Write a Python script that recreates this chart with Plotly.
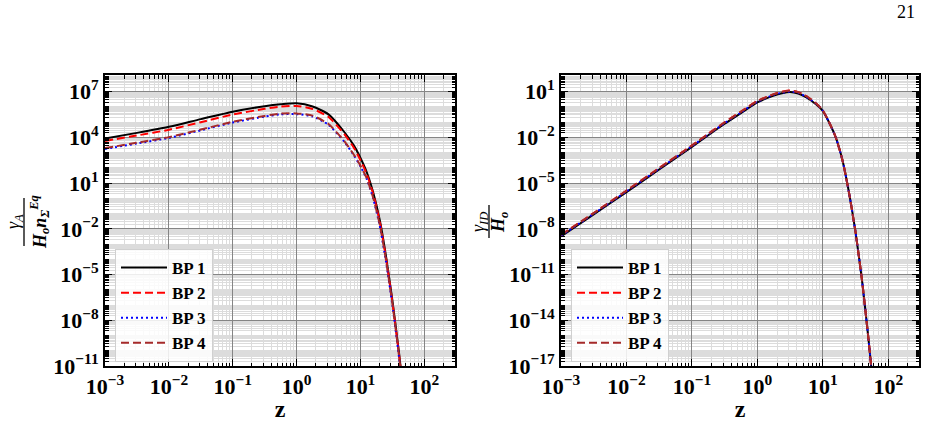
import plotly.graph_objects as go

# ---------------- data ----------------
z_left = [0.001, 0.00316, 0.01, 0.0316, 0.1, 0.316, 0.562, 1.0, 1.78, 3.16,
          5.62, 7.94, 10.0, 12.6, 15.8, 20.0, 25.1, 31.6, 39.8, 50.1]
gA_bp1 = [8.5e3, 2.0e4, 5.0e4, 1.6e5, 4.9e5, 1.12e6, 1.5e6, 1.74e6, 1.07e6, 3.3e5,
          2.2e4, 2.8e3, 4.5e2, 5.0e1, 2.5, 4.0e-2, 1.6e-4, 2.0e-7, 1.0e-10, 2.0e-14]
gA_bp2 = [5.9e3, 1.35e4, 3.2e4, 1.0e5, 3.2e5, 7.6e5, 1.07e6, 1.17e6, 7.4e5, 2.2e5,
          1.6e4, 2.0e3, 3.2e2, 3.8e1, 2.0, 3.2e-2, 1.26e-4, 1.6e-7, 7.9e-11, 1.6e-14]
gA_bp3 = [1.78e3, 4.0e3, 9.3e3, 2.95e4, 9.5e4, 2.34e5, 3.3e5, 3.4e5, 2.4e5, 6.8e4,
          5.0e3, 6.3e2, 1.26e2, 1.78e1, 1.0, 1.66e-2, 7.1e-5, 1.0e-7, 5.0e-11, 1.0e-14]
gA_bp4 = [2.0e3, 4.5e3, 1.05e4, 3.3e4, 1.07e5, 2.6e5, 3.7e5, 3.8e5, 2.7e5, 7.6e4,
          5.6e3, 7.1e2, 1.4e2, 2.0e1, 1.12, 2.0e-2, 8.9e-5, 1.26e-7, 6.3e-11, 1.26e-14]

z_right = [0.001, 0.00316, 0.01, 0.0316, 0.1, 0.178, 0.316, 0.562, 1.0, 1.78, 2.37, 3.16,
           4.22, 5.62, 7.94, 10.0, 12.6, 15.8, 20.0, 25.1, 31.6, 39.8, 50.1, 57.5]
gID_bp1 = [3.2e-9, 8.9e-8, 2.6e-6, 7.9e-5, 2.4e-3, 1.4e-2, 7.9e-2, 0.40, 2.0, 5.6, 7.9, 9.5,
           7.6, 4.2, 1.48, 0.56, 8.9e-2, 1.0e-2, 3.2e-4, 2.5e-6, 6.3e-9, 4.0e-12, 5.0e-16, 1.26e-18]
gID_bp2 = [4.0e-9, 1.1e-7, 3.25e-6, 9.9e-5, 3.0e-3, 1.75e-2, 9.9e-2, 0.50, 2.5, 7.0, 9.9, 11.9,
           9.5, 5.2, 1.7, 0.60, 9.2e-2, 1.0e-2, 3.2e-4, 2.5e-6, 6.3e-9, 4.0e-12, 5.0e-16, 1.26e-18]
gID_bp3 = [3.5e-9, 9.8e-8, 2.85e-6, 8.7e-5, 2.65e-3, 1.55e-2, 8.7e-2, 0.44, 2.2, 6.2, 8.7, 10.4,
           8.4, 4.6, 1.6, 0.58, 9.0e-2, 1.0e-2, 3.2e-4, 2.5e-6, 6.3e-9, 4.0e-12, 5.0e-16, 1.26e-18]
gID_bp4 = [3.9e-9, 1.08e-7, 3.2e-6, 9.6e-5, 2.9e-3, 1.7e-2, 9.6e-2, 0.49, 2.44, 6.8, 9.6, 11.6,
           9.3, 5.1, 1.68, 0.60, 9.2e-2, 1.0e-2, 3.2e-4, 2.5e-6, 6.3e-9, 4.0e-12, 5.0e-16, 1.26e-18]

labels = ["BP 1", "BP 2", "BP 3", "BP 4"]

# tick positions / labels
x_tick_exp = [-3, -2, -1, 0, 1, 2]
yL_tick_exp = [-11, -8, -5, -2, 1, 4, 7]
yR_tick_exp = [-17, -14, -11, -8, -5, -2, 1]

# ---------------- styling ----------------
W, H = 933, 422
FONT = "Liberation Serif"
styles = [
    dict(color="black", width=2, dash="solid"),
    dict(color="red", width=2, dash="8px,4px"),
    dict(color="blue", width=2, dash="2px,3px"),
    dict(color="#a52a2a", width=2, dash="8px,4px"),
]

fig = go.Figure()
for ys, lab, st in zip([gA_bp1, gA_bp2, gA_bp3, gA_bp4], labels, styles):
    fig.add_trace(go.Scatter(x=z_left, y=ys, mode="lines", name=lab,
                             line=dict(shape="spline", smoothing=0.6, **st),
                             xaxis="x", yaxis="y", legend="legend"))
for ys, lab, st in zip([gID_bp1, gID_bp2, gID_bp3, gID_bp4], labels, styles):
    fig.add_trace(go.Scatter(x=z_right, y=ys, mode="lines", name=lab,
                             line=dict(shape="spline", smoothing=0.6, **st),
                             xaxis="x2", yaxis="y2", legend="legend2"))


def px_x(p):
    return p / W


def px_y(p):
    return 1 - p / H


def pow_label(e):
    s = str(e).replace("-", "−")
    return f"10<sup>{s}</sup>"


def axis_common(exps):
    return dict(
        type="log", automargin=False,
        showline=True, linecolor="black", linewidth=2, mirror="allticks",
        ticks="inside", ticklen=7, tickwidth=1.2, tickcolor="black",
        showgrid=True, gridcolor="#858585", gridwidth=1,
        tickmode="array", tickvals=[10.0 ** e for e in exps],
        ticktext=[pow_label(e) for e in exps],
        tickfont=dict(family=FONT, size=22, color="black", weight="bold"),
        minor=dict(dtick="D1", ticks="inside", ticklen=3.5, tickwidth=0.8,
                   tickcolor="black", showgrid=True, gridcolor="#dcdcdc", gridwidth=0.8),
        zeroline=False,
    )


ydom = [px_y(366), px_y(75)]
ztitle = dict(text="<b>z</b>", font=dict(family=FONT, size=24, color="black"), standoff=8)
xa = axis_common(x_tick_exp)
xa.update(domain=[px_x(105), px_x(455)], range=[-3, 2.48], anchor="y", title=ztitle)
ya = axis_common(yL_tick_exp)
ya.update(domain=ydom, range=[-11, 8.1], anchor="x")
xa2 = axis_common(x_tick_exp)
xa2.update(domain=[px_x(561), px_x(919)], range=[-3, 2.47], anchor="y2", title=ztitle)
ya2 = axis_common(yR_tick_exp)
ya2.update(domain=ydom, range=[-17, 2.1], anchor="x2")

leg_common = dict(
    bgcolor="rgba(255,255,255,0.85)", bordercolor="#d0d0d0", borderwidth=1,
    font=dict(family=FONT, size=17, color="black", weight="bold"),
    xanchor="left", yanchor="top", tracegroupgap=0, itemwidth=46,
    xref="paper", yref="paper",
)
leg1 = dict(leg_common, x=px_x(115), y=px_y(249))
leg2 = dict(leg_common, x=px_x(571), y=px_y(249))

tfont = dict(family=FONT, size=18, color="black")
annotations = [
    dict(text="21", x=px_x(917), y=px_y(12), xref="paper", yref="paper",
         xanchor="right", yanchor="middle", showarrow=False,
         font=dict(family=FONT, size=18, color="black")),
    # left y-title: fraction
    dict(text="<i>γ<sub>A</sub></i>", x=px_x(14), y=px_y(222), xref="paper", yref="paper",
         xanchor="center", yanchor="middle", textangle=-90, showarrow=False, font=tfont),
    dict(text="<b><i>H<sub>o</sub>n<sub>Σ</sub><sup>Eq</sup></i></b>", x=px_x(39), y=px_y(222),
         xref="paper", yref="paper", xanchor="center", yanchor="middle",
         textangle=-90, showarrow=False, font=tfont),
    # right y-title: fraction
    dict(text="<i>γ<sub>ID</sub></i>", x=px_x(479), y=px_y(222), xref="paper", yref="paper",
         xanchor="center", yanchor="middle", textangle=-90, showarrow=False, font=tfont),
    dict(text="<b><i>H<sub>o</sub></i></b>", x=px_x(499), y=px_y(222), xref="paper", yref="paper",
         xanchor="center", yanchor="middle", textangle=-90, showarrow=False, font=tfont),
]
shapes = [
    dict(type="line", xref="paper", yref="paper", x0=px_x(24), x1=px_x(24),
         y0=px_y(198), y1=px_y(246), line=dict(color="black", width=1.3)),
    dict(type="line", xref="paper", yref="paper", x0=px_x(489), x1=px_x(489),
         y0=px_y(205), y1=px_y(238), line=dict(color="black", width=1.3)),
]

fig.update_layout(
    width=W, height=H, margin=dict(l=0, r=0, t=0, b=0, autoexpand=False),
    paper_bgcolor="white", plot_bgcolor="white",
    xaxis=xa, yaxis=ya, xaxis2=xa2, yaxis2=ya2,
    legend=leg1, legend2=leg2, showlegend=True,
    annotations=annotations, shapes=shapes,
    font=dict(family=FONT, color="black"),
)

fig.write_html("out.html")
